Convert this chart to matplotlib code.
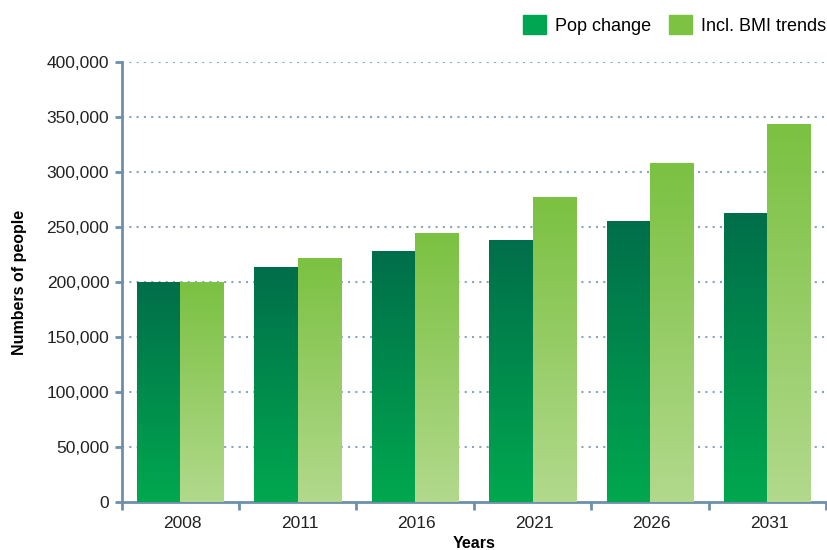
import numpy as np
import matplotlib.pyplot as plt
from matplotlib.colors import LinearSegmentedColormap
from matplotlib.patches import Patch

plt.rcParams['font.family'] = ['Liberation Sans', 'DejaVu Sans']

years = ["2008", "2011", "2016", "2021", "2026", "2031"]
pop_change = [200000, 213500, 228000, 238000, 255500, 262000]
bmi_trends = [200000, 221000, 244500, 276500, 308000, 343500]

spine_col = "#6e8faa"
grid_col = "#8aa4bd"

# gradients: bottom colour -> top colour
cmap_pop = LinearSegmentedColormap.from_list("pop", ["#00a84f", "#006e4a"])
cmap_bmi = LinearSegmentedColormap.from_list("bmi", ["#b2d98c", "#7bc142"])

fig = plt.figure(figsize=(8.28, 5.5), dpi=100)
ax = fig.add_axes([0.147, 0.0873, 0.8506, 0.7997])

x = np.arange(len(years))
w = 0.37
grad = np.linspace(0, 1, 256).reshape(-1, 1)
for i in range(len(years)):
    for xs, h, cm in [(x[i] - w, pop_change[i], cmap_pop), (x[i], bmi_trends[i], cmap_bmi)]:
        ax.imshow(grad, extent=[xs, xs + w, 0, h], origin="lower", aspect="auto",
                  cmap=cm, zorder=3, interpolation="bilinear")

ax.set_xlim(-0.5, len(years) - 0.5)
ax.set_ylim(0, 400000)
ax.set_yticks(np.arange(0, 400001, 50000))
ax.set_yticklabels([f"{v:,}" for v in range(0, 400001, 50000)], fontsize=12.5, color="#222222")
ax.set_xticks(x + 0.015)
ax.set_xticklabels(years, fontsize=12.5, color="#222222")
ax.set_xticks(np.arange(-0.5, len(years)), minor=True)
ax.tick_params(axis="x", which="major", length=0, pad=10)
ax.tick_params(axis="x", which="minor", length=6, width=2, color=spine_col, direction="out")
ax.tick_params(axis="y", length=5, width=2, color=spine_col, direction="out", pad=4)

for yv in range(50000, 400001, 50000):
    ax.axhline(yv, color=grid_col, linestyle=(0, (1, 2.5)), linewidth=1.5, zorder=1)

for s in ["top", "right"]:
    ax.spines[s].set_visible(False)
for s in ["left", "bottom"]:
    ax.spines[s].set_color(spine_col)
    ax.spines[s].set_linewidth(2)

ax.set_ylabel("Numbers of people", fontsize=11.5, fontweight="bold", labelpad=14)
ax.set_xlabel("Years", fontsize=11.5, fontweight="bold", labelpad=4)

handles = [Patch(color="#00a651", label="Pop change"), Patch(color="#7dc242", label="Incl. BMI trends")]
fig.legend(handles=handles, loc="upper right", bbox_to_anchor=(1.016, 1.0), ncol=2, frameon=False,
           fontsize=13, handlelength=1.25, handleheight=1.25, columnspacing=1.0, handletextpad=0.5,
           borderaxespad=0.45)

fig.savefig("out.png", dpi=100)
